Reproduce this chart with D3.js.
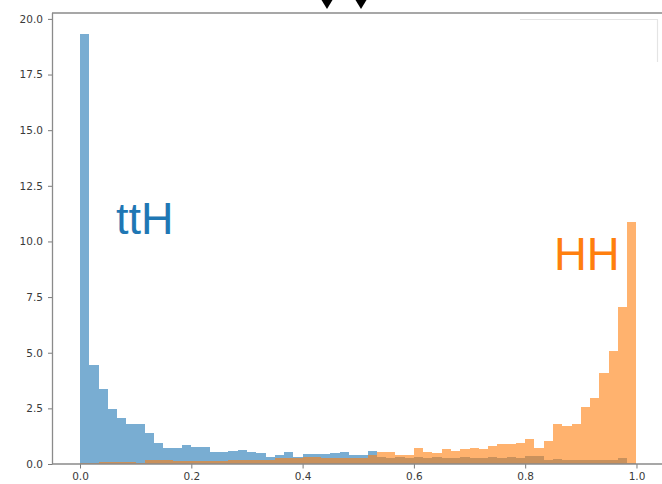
<!DOCTYPE html>
<html>
<head>
<meta charset="utf-8">
<script src="https://cdn.jsdelivr.net/npm/d3@7"></script>
<style>
  html, body { margin: 0; padding: 0; background: #fff; }
  svg { display: block; }
</style>
</head>
<body>
<svg id="chart" width="662" height="484"></svg>
<script>
// Classifier output score, 60 equal bins on [0, 1], density-normalised.
const binEdgesStart = 0;
const binEdgesEnd = 1;
const binCount = 60;

// ttH sample density per bin
const ttHDensity = [
  19.3, 4.45, 3.37, 2.46, 2.08, 1.78, 1.78, 1.38, 0.93, 0.72,
  0.72, 0.85, 0.78, 0.78, 0.52, 0.52, 0.58, 0.63, 0.52, 0.50,
  0.33, 0.40, 0.52, 0.33, 0.43, 0.43, 0.47, 0.50, 0.52, 0.40,
  0.40, 0.57, 0.30, 0.28, 0.30, 0.25, 0.30, 0.28, 0.30, 0.25,
  0.28, 0.30, 0.27, 0.25, 0.30, 0.28, 0.30, 0.28, 0.38, 0.35,
  0.20, 0.22, 0.20, 0.18, 0.20, 0.18, 0.20, 0.18, 0.28, 0.05
];

// HH sample density per bin
const hhDensity = [
  0.06, 0.03, 0.10, 0.10, 0.10, 0.08, 0.05, 0.18, 0.18, 0.16,
  0.15, 0.15, 0.15, 0.15, 0.15, 0.15, 0.16, 0.18, 0.18, 0.18,
  0.20, 0.25, 0.25, 0.25, 0.30, 0.30, 0.28, 0.28, 0.28, 0.25,
  0.25, 0.40, 0.52, 0.52, 0.40, 0.40, 0.73, 0.55, 0.50, 0.67,
  0.58, 0.67, 0.73, 0.67, 0.82, 0.90, 0.90, 0.93, 1.11, 0.70,
  1.05, 1.78, 1.70, 1.80, 2.58, 2.95, 4.07, 5.08, 7.07, 10.89
];

const xTicks = [0.0, 0.2, 0.4, 0.6, 0.8, 1.0];
const yTicks = [0.0, 2.5, 5.0, 7.5, 10.0, 12.5, 15.0, 17.5, 20.0];

const seriesNames = ["ttH", "HH"];
const seriesColors = ["#1f77b4", "#ff7f0e"];

const svg = d3.select("#chart");

// Axes frame: 5% margins around the data range, as in the plotting defaults
const maxVal = d3.max(ttHDensity.concat(hhDensity));
const x = d3.scaleLinear().domain([-0.05, 1.05]).range([52.2, 664.3]);
const y = d3.scaleLinear().domain([0, maxVal * 1.05]).range([464, 13]);

const binW = (binEdgesEnd - binEdgesStart) / binCount;

function drawHist(values, color) {
  svg.append("g")
    .selectAll("rect")
    .data(values)
    .join("rect")
    .attr("x", (d, i) => x(binEdgesStart + i * binW))
    .attr("width", (d, i) => x(binEdgesStart + (i + 1) * binW) - x(binEdgesStart + i * binW))
    .attr("y", d => y(d))
    .attr("height", d => y(0) - y(d))
    .attr("fill", color)
    .attr("fill-opacity", 0.6)
    .attr("shape-rendering", "crispEdges");
}

drawHist(ttHDensity, seriesColors[0]);
drawHist(hhDensity, seriesColors[1]);

// Partially hidden legend frame in the upper-right corner
svg.append("path")
  .attr("d", "M520,19.5 H657.5 V62")
  .attr("fill", "none")
  .attr("stroke", "#e4e4e4")
  .attr("stroke-width", 1.2);

// Axes
const yAxis = d3.axisLeft(y)
  .tickValues(yTicks)
  .tickFormat(d3.format(".1f"))
  .tickSize(4.5)
  .tickPadding(5)
  .tickSizeOuter(0);
const xAxis = d3.axisBottom(x)
  .tickValues(xTicks)
  .tickFormat(d3.format(".1f"))
  .tickSize(4.5)
  .tickPadding(4)
  .tickSizeOuter(0);

const gy = svg.append("g").attr("transform", "translate(52.5,0)").call(yAxis);
const gx = svg.append("g").attr("transform", "translate(0,464)").call(xAxis);

[gx, gy].forEach(g => {
  g.select(".domain").remove();
  g.selectAll(".tick line").attr("stroke", "#7a7a7a").attr("stroke-width", 1);
  g.selectAll(".tick text")
    .attr("fill", "#3a3a3a")
    .style("font-family", "'DejaVu Sans', sans-serif")
    .style("font-size", "10.5px");
});

// Spines (right spine falls just outside the view)
const spine = svg.append("g")
  .attr("stroke", "#8a8a8a")
  .attr("stroke-width", 1.3)
  .attr("fill", "none");
spine.append("line").attr("x1", 52.5).attr("x2", 52.5).attr("y1", 13).attr("y2", 464);
spine.append("line").attr("x1", 52).attr("x2", 662).attr("y1", 464).attr("y2", 464);
spine.append("line").attr("x1", 52).attr("x2", 662).attr("y1", 13).attr("y2", 13);

// Series labels
svg.append("text")
  .attr("x", 116)
  .attr("y", 234)
  .attr("fill", seriesColors[0])
  .style("font-family", "'Liberation Sans', Arial, sans-serif")
  .style("font-size", "45px")
  .text(seriesNames[0]);

svg.append("text")
  .attr("x", 554)
  .attr("y", 270)
  .attr("fill", seriesColors[1])
  .style("font-family", "'Liberation Sans', Arial, sans-serif")
  .style("font-size", "45.5px")
  .text(seriesNames[1]);

// Small marker triangles above the frame
const markerX = [327, 361];
svg.append("g")
  .selectAll("path")
  .data(markerX)
  .join("path")
  .attr("d", d => `M${d - 5.5},0 L${d + 5.5},0 L${d},9 Z`)
  .attr("fill", "#000");
</script>
</body>
</html>
